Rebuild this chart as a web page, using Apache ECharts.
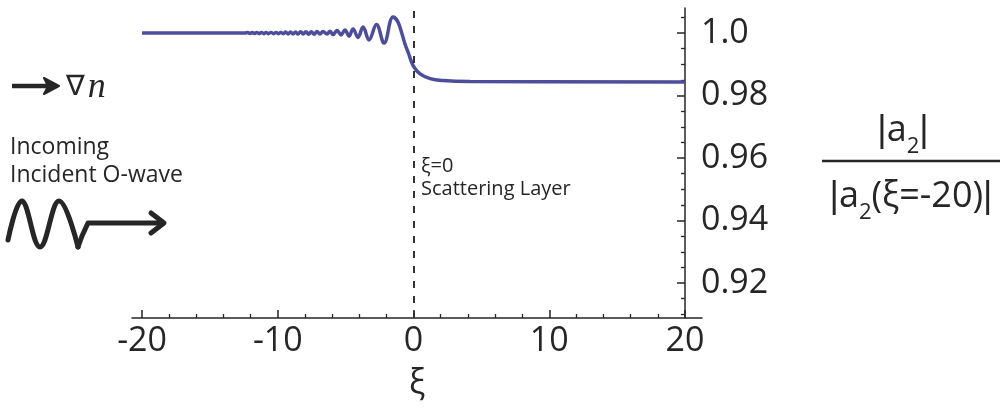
<!DOCTYPE html>
<html>
<head>
<meta charset="utf-8">
<script src="https://cdn.jsdelivr.net/npm/echarts@6/dist/echarts.min.js"></script>
<style>
  html, body { margin: 0; padding: 0; background: #fff; }
  #chart { width: 1003px; height: 412px; }
</style>
</head>
<body>
<div id="chart"></div>
<script>
// Normalised amplitude |a2| / |a2(xi=-20)| across the scattering layer
const xi = [
  -20, -12.4,
  -12.22, -12.05, -11.88, -11.71, -11.54, -11.37, -11.20, -11.03, -10.86, -10.69,
  -10.50, -10.31, -10.13,
  -9.95, -9.78, -9.60, -9.42, -9.24, -9.06, -8.88, -8.70, -8.51, -8.32,
  -8.13, -7.93, -7.73, -7.53, -7.32, -7.11, -6.89, -6.67, -6.37, -6.15,
  -5.93, -5.64, -5.34, -5.05, -4.75, -4.46, -4.09, -3.72, -3.28, -2.73,
  -2.17, -1.51, -1.18, -0.87, -0.63, -0.38, -0.01, 0.48, 1.22, 2.17,
  4.16, 20
];
const ratio = [
  1.0, 1.0,
  1.00015, 0.99985, 1.00015, 0.99985, 1.0002, 0.9998, 1.0002, 0.9998, 1.0002, 0.9998,
  1.0002, 0.9998, 1.0002,
  0.9998, 1.0002, 0.9998, 1.0003, 0.9997, 1.0003, 0.9997, 1.0003, 0.9997, 1.0004,
  0.9997, 1.0004, 0.9996, 1.0004, 0.9996, 1.0005, 0.9997, 1.0005, 0.9997, 1.0006,
  0.9995, 1.0008, 0.9994, 1.0010, 0.9990, 1.0013, 0.9986, 1.0019, 0.9978, 1.0027,
  0.9968, 1.0051, 1.0038, 1.0000, 0.9965, 0.9936, 0.9894, 0.9869, 0.9854, 0.9848,
  0.9845, 0.9843
];

// Axis ticks and labels
const xMajorTicks = [-20, -10, 0, 10, 20];
const xMinorTicks = [-18, -16, -14, -12, -8, -6, -4, -2, 2, 4, 6, 8, 12, 14, 16, 18];
const yMajorTicks = [0.92, 0.94, 0.96, 0.98, 1.0];
const yTickLabels = ['0.92', '0.94', '0.96', '0.98', '1.0'];
const yMinorTicks = [0.91, 0.915, 0.925, 0.93, 0.935, 0.945, 0.95, 0.955,
                     0.965, 0.97, 0.975, 0.985, 0.99, 0.995, 1.005];
const layerPosition = 0;

const FONT = 'Open Sans';
const BAR_FONT = 'Liberation Sans';
const INK = '#262626';
const X_MIN = -20.74, X_MAX = 21.25;
const Y_MIN = 0.9088, Y_MAX = 1.008;

const lineData = xi.map((x, i) => [x, ratio[i]]);

// Lay out a row of text runs (with sub-scripts) centred on cx
const measureCtx = document.createElement('canvas').getContext('2d');
function textRun(cx, cy, pieces) {
  const widths = pieces.map(p => {
    measureCtx.font = p.size + 'px "' + p.family + '"';
    return measureCtx.measureText(p.text).width;
  });
  let x = cx - widths.reduce((a, b) => a + b, 0) / 2;
  return pieces.map((p, i) => {
    const el = {
      type: 'text', x: x, y: cy + (p.dy || 0),
      style: { text: p.text, fontSize: p.size, fontFamily: p.family, fill: INK, verticalAlign: 'middle' }
    };
    x += widths[i];
    return el;
  });
}
const MAIN = 36, SUB = 22, SUB_DY = 16;
const numerator = textRun(903, 131, [
  { text: '|', size: MAIN, family: BAR_FONT },
  { text: 'a', size: MAIN, family: FONT },
  { text: '2', size: SUB, family: FONT, dy: SUB_DY },
  { text: '|', size: MAIN, family: BAR_FONT }
]);
const denominator = textRun(911, 197, [
  { text: '|', size: MAIN, family: BAR_FONT },
  { text: 'a', size: MAIN, family: FONT },
  { text: '2', size: SUB, family: FONT, dy: SUB_DY },
  { text: '(ξ=-20)', size: MAIN, family: FONT },
  { text: '|', size: MAIN, family: BAR_FONT }
]);

const chart = echarts.init(document.getElementById('chart'), null, { renderer: 'canvas' });

const baseX = {
  type: 'value', min: X_MIN, max: X_MAX, position: 'bottom',
  splitLine: { show: false }
};
const baseY = {
  type: 'value', min: Y_MIN, max: Y_MAX, position: 'right', offset: -17,
  splitLine: { show: false }
};

chart.setOption({
  animation: false,
  backgroundColor: '#fff',
  grid: { left: 132, right: 301, top: 8, bottom: 94, outerBoundsMode: 'none' },
  xAxis: [
    Object.assign({}, baseX, {
      axisLine: { onZero: false, lineStyle: { color: INK, width: 1.5 } },
      axisTick: { inside: true, length: 8, customValues: xMajorTicks, lineStyle: { color: INK, width: 1.5 } },
      axisLabel: { customValues: xMajorTicks, fontSize: 34, fontFamily: FONT, color: INK, margin: 6 },
      name: 'ξ', nameLocation: 'middle', nameGap: 48,
      nameTextStyle: { fontSize: 34, fontFamily: FONT, color: INK }
    }),
    Object.assign({}, baseX, {
      axisLine: { show: false, onZero: false },
      axisTick: { inside: true, length: 4, customValues: xMinorTicks, lineStyle: { color: INK, width: 1.3 } },
      axisLabel: { show: false }
    })
  ],
  yAxis: [
    Object.assign({}, baseY, {
      axisLine: { show: true, onZero: false, lineStyle: { color: INK, width: 1.5 } },
      axisTick: { show: true, inside: true, length: 8, customValues: yMajorTicks, lineStyle: { color: INK, width: 1.5 } },
      axisLabel: {
        customValues: yMajorTicks, fontSize: 34, fontFamily: FONT, color: INK, margin: 16,
        formatter: v => yTickLabels[yMajorTicks.findIndex(t => Math.abs(t - v) < 1e-9)]
      }
    }),
    Object.assign({}, baseY, {
      axisLine: { show: false, onZero: false },
      axisTick: { show: true, inside: true, length: 4, customValues: yMinorTicks, lineStyle: { color: INK, width: 1.3 } },
      axisLabel: { show: false }
    })
  ],
  series: [{
    type: 'line',
    xAxisIndex: 0, yAxisIndex: 0,
    data: lineData,
    showSymbol: false,
    smooth: 0.4,
    lineStyle: { color: '#4c4e9c', width: 3.5 },
    markLine: {
      silent: true, symbol: 'none',
      label: { show: false },
      lineStyle: { type: [7, 8], color: '#333', width: 2 },
      data: [{ xAxis: layerPosition }]
    }
  }],
  graphic: [
    // gradient-direction arrow
    { type: 'line', shape: { x1: 12, y1: 86, x2: 50, y2: 86 }, style: { stroke: INK, lineWidth: 4.5 } },
    { type: 'polygon', shape: { points: [[44, 78], [59, 86], [44, 94], [48, 86]] }, style: { fill: INK, stroke: INK, lineWidth: 2, lineJoin: 'round' } },
    { type: 'text', left: 66, top: 70, style: {
        text: '{g|∇}{n|n}', fill: INK,
        rich: {
          g: { fontSize: 28, fontFamily: 'DejaVu Sans', fill: INK },
          n: { fontSize: 36, fontFamily: 'Liberation Serif', fontStyle: 'italic', fill: INK, padding: [0, 0, 0, 3] }
        }
    } },
    // incoming wave caption
    { type: 'text', x: 10, y: 147, style: { text: 'Incoming', fontSize: 23, fontFamily: FONT, fill: INK, verticalAlign: 'middle' } },
    { type: 'text', x: 10, y: 175, style: { text: 'Incident O-wave', fontSize: 23, fontFamily: FONT, fill: INK, verticalAlign: 'middle' } },
    // incoming wave sketch with arrow
    { type: 'polyline', shape: {
        points: [[8, 240], [22, 201], [40, 247], [59, 201], [78, 247]],
        smooth: 0.4
      }, style: { stroke: INK, lineWidth: 5, fill: null, lineJoin: 'round', lineCap: 'round' } },
    { type: 'polyline', shape: { points: [[78, 247], [82, 236], [88, 223], [162, 223]] },
      style: { stroke: INK, lineWidth: 5, fill: null, lineJoin: 'round', lineCap: 'round' } },
    { type: 'polyline', shape: { points: [[151, 213], [164, 223], [151, 233]] },
      style: { stroke: INK, lineWidth: 5, fill: null, lineJoin: 'round', lineCap: 'round' } },
    // scattering layer caption
    { type: 'text', x: 421, y: 166, style: { text: 'ξ=0', fontSize: 20, fontFamily: FONT, fill: INK, verticalAlign: 'middle' } },
    { type: 'text', x: 421, y: 189, style: { text: 'Scattering Layer', fontSize: 20, fontFamily: FONT, fill: INK, verticalAlign: 'middle' } },
    // y-axis quantity as a fraction
    ...numerator,
    { type: 'line', shape: { x1: 822, y1: 161, x2: 1000, y2: 161 }, style: { stroke: INK, lineWidth: 2.5 } },
    ...denominator
  ]
});
</script>
</body>
</html>
